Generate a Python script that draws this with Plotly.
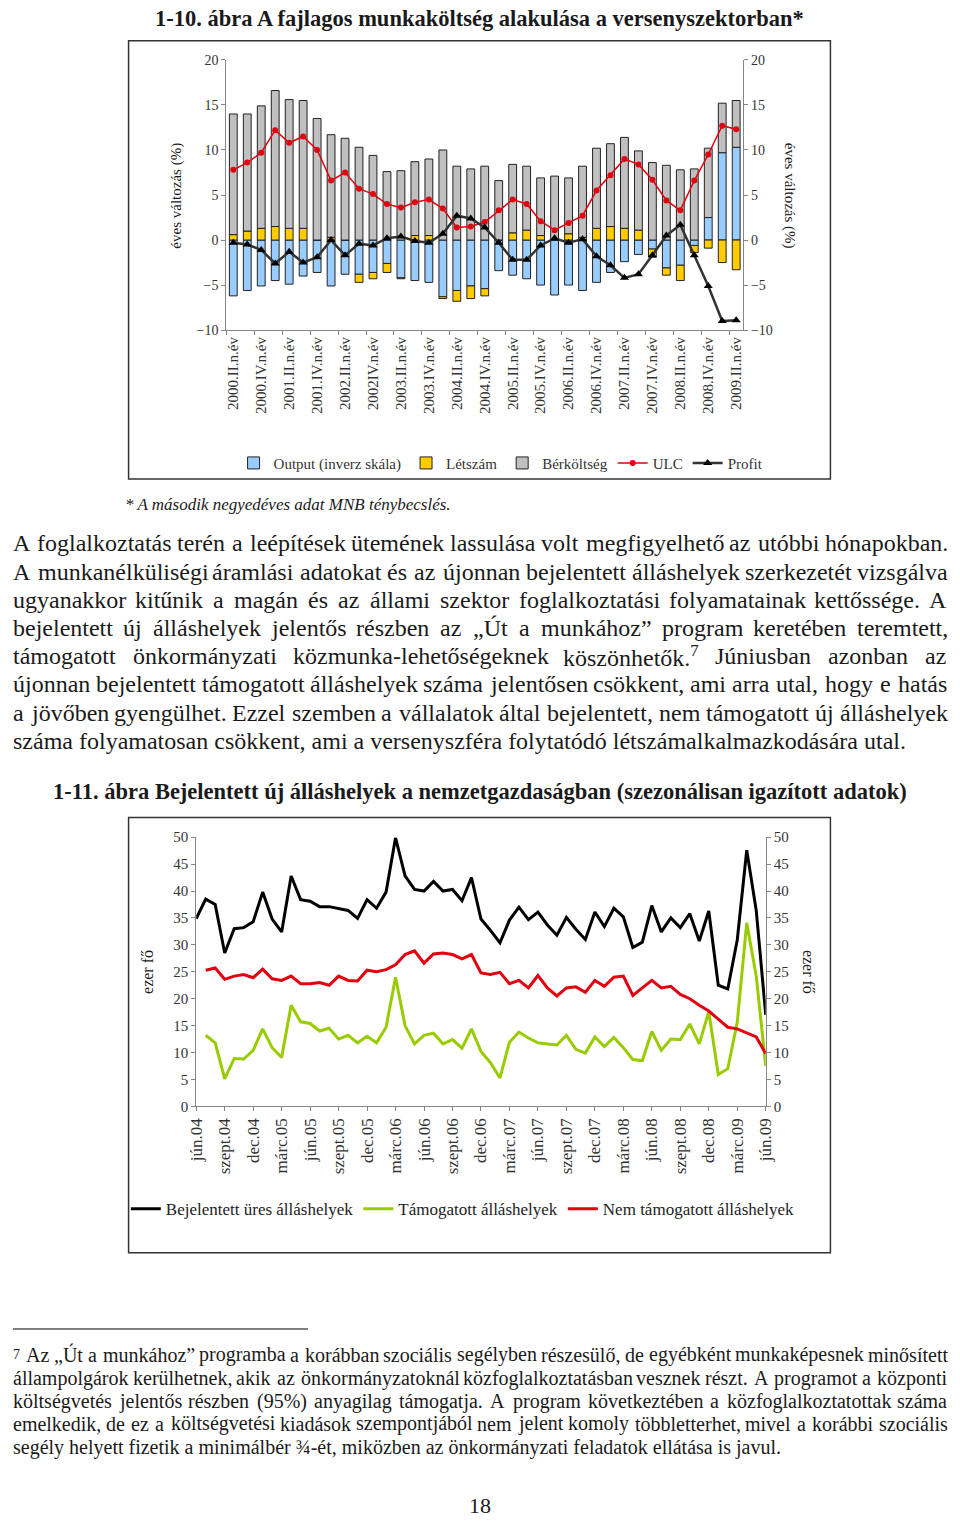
import unicodedata
import plotly.graph_objects as go

W, H = 960, 1525
SERIF = "Liberation Serif"
GRAY = "#868686"
INK = "#1a1a1a"

# ---------- 1-10. ábra: éves változás (%) ----------
quarter_ticks = ["2000.II.n.év", "2000.IV.n.év", "2001.II.n.év", "2001.IV.n.év",
                 "2002.II.n.év", "2002IV.n.év", "2003.II.n.év", "2003.IV.n.év",
                 "2004.II.n.év", "2004.IV.n.év", "2005.II.n.év", "2005.IV.n.év",
                 "2006.II.n.év", "2006.IV.n.év", "2007.II.n.év", "2007.IV.n.év",
                 "2008.II.n.év", "2008.IV.n.év", "2009.II.n.év"]
quarters = [f"{y}.{q}.n.év" for y in range(2000, 2010) for q in ("I", "II", "III", "IV")][1:38]

output = [-6.2, -5.6, -5.1, -4.5, -4.9, -4.0, -3.6, -5.1, -3.8, -3.8, -3.6, -2.6, -4.2,
          -4.5, -4.7, -6.3, -5.6, -5.1, -5.4, -3.4, -3.9, -4.3, -5.0, -6.1, -5.0, -5.6,
          -4.7, -3.6, -2.4, -1.6, -1.0, -3.1, -2.8, -0.6, 2.5, 9.7, 10.3]
letszam = [0.6, 1.0, 1.3, 1.5, 1.3, 1.3, 0.0, 0.3, 0.0, -0.9, -0.7, -1.0, -0.1,
           0.5, 0.5, -0.2, -1.2, -1.4, -0.8, 0.0, 0.8, 1.1, 0.5, 0.0, 0.7, 0.3,
           1.3, 1.5, 1.3, 1.1, -0.9, -0.8, -1.7, -0.8, -0.9, -2.5, -3.3]
berkoltseg = [13.4, 13.0, 13.6, 15.1, 14.3, 14.2, 13.5, 11.4, 11.3, 10.3, 9.4, 7.6, 7.7,
              8.2, 8.5, 10.0, 8.2, 7.9, 8.2, 6.6, 7.6, 7.1, 6.4, 7.1, 6.2, 7.9,
              8.9, 9.2, 10.1, 8.8, 8.6, 8.3, 7.8, 7.9, 7.7, 5.5, 5.2]
ulc = [7.8, 8.6, 9.7, 12.2, 10.8, 11.5, 10.0, 6.6, 7.5, 5.7, 5.1, 4.0, 3.6,
       4.2, 4.5, 3.5, 1.4, 1.5, 2.0, 3.3, 4.5, 4.0, 2.1, 1.1, 1.9, 2.7,
       5.5, 7.2, 9.0, 8.4, 6.7, 4.4, 3.3, 6.6, 9.5, 12.7, 12.3]
profit = [-0.3, -0.5, -1.1, -2.6, -1.3, -2.5, -1.9, 0.0, -1.7, -0.4, -0.6, 0.2, 0.4,
          -0.1, -0.3, 0.7, 2.7, 2.4, 1.4, -0.3, -2.2, -2.2, -0.6, 0.2, -0.3, 0.1,
          -1.8, -2.8, -4.2, -3.8, -1.7, 0.5, 1.7, -1.7, -5.1, -9.0, -8.9]

# ---------- 1-11. ábra: ezer fő, havi adatok jún.04 - jún.09 ----------
month_ticks = ["jún.04", "szept.04", "dec.04", "márc.05", "jún.05", "szept.05", "dec.05",
               "márc.06", "jún.06", "szept.06", "dec.06", "márc.07", "jún.07", "szept.07",
               "dec.07", "márc.08", "jún.08", "szept.08", "dec.08", "márc.09", "jún.09"]
bejelentett = [34.9, 38.5, 37.5, 28.5, 33.0, 33.2, 34.3, 39.8, 34.8, 32.4, 42.8, 38.4, 38.1,
               37.1, 37.1, 36.7, 36.4, 34.9, 38.4, 36.8, 39.8, 49.9, 42.8, 40.3, 40.0, 41.8,
               40.0, 40.3, 38.2, 42.5, 34.8, 32.7, 30.4, 34.6, 37.0, 34.7, 36.1, 33.7, 31.8,
               35.1, 32.9, 31.0, 36.1, 33.4, 36.8, 35.2, 29.5, 30.5, 37.3, 32.4, 35.0, 33.2,
               35.8, 30.7, 36.3, 22.5, 21.8, 30.9, 47.6, 36.4, 17.0]
tamogatott = [None, 13.2, 11.8, 5.1, 8.9, 8.8, 10.4, 14.4, 10.9, 9.1, 18.8, 15.7, 15.4,
              14.0, 14.5, 12.5, 13.2, 11.8, 13.0, 11.8, 14.7, 24.0, 15.0, 11.6, 13.2, 13.6,
              11.6, 12.4, 10.8, 14.4, 10.2, 8.1, 5.3, 11.9, 13.8, 12.7, 11.8, 11.6, 11.4,
              13.2, 10.6, 9.9, 12.9, 11.1, 12.8, 10.9, 8.7, 8.5, 13.9, 10.4, 12.5, 12.4,
              15.3, 11.6, 17.6, 5.9, 7.0, 15.6, 34.1, 24.2, 7.5]
nem_tamogatott = [None, 25.3, 25.7, 23.6, 24.2, 24.5, 23.9, 25.5, 23.7, 23.4, 24.2, 22.8, 22.8,
                  23.0, 22.5, 24.2, 23.4, 23.3, 25.3, 25.0, 25.4, 26.3, 28.2, 28.9, 26.6, 28.3,
                  28.5, 28.2, 27.4, 28.2, 24.8, 24.5, 24.9, 22.8, 23.4, 22.0, 24.3, 22.0, 20.5,
                  22.0, 22.2, 21.2, 23.4, 22.3, 24.0, 24.2, 20.6, 22.0, 23.4, 22.0, 22.3, 20.8,
                  20.0, 18.8, 17.7, 16.2, 14.7, 14.4, 13.6, 12.9, 9.8]

# ---------- szöveg ----------
title1 = "1-10. ábra A fajlagos munkaköltség alakulása a versenyszektorban*"
note1 = "* A második negyedéves adat MNB ténybecslés."
title2 = "1-11. ábra Bejelentett új álláshelyek a nemzetgazdaságban (szezonálisan igazított adatok)"
paragraph = [
    "A foglalkoztatás terén a leépítések ütemének lassulása volt megfigyelhető az utóbbi hónapokban.",
    "A munkanélküliségi áramlási adatokat és az újonnan bejelentett álláshelyek szerkezetét vizsgálva",
    "ugyanakkor kitűnik a magán és az állami szektor foglalkoztatási folyamatainak kettőssége. A",
    "bejelentett új álláshelyek jelentős részben az „Út a munkához” program keretében teremtett,",
    "támogatott önkormányzati közmunka-lehetőségeknek köszönhetők.<sup>7</sup> Júniusban azonban az",
    "újonnan bejelentett támogatott álláshelyek száma jelentősen csökkent, ami arra utal, hogy e hatás",
    "a jövőben gyengülhet. Ezzel szemben a vállalatok által bejelentett, nem támogatott új álláshelyek",
    "száma folyamatosan csökkent, ami a versenyszféra folytatódó létszámalkalmazkodására utal.",
]
footnote = [
    "<sup>7</sup> Az „Út a munkához” programba a korábban szociális segélyben részesülő, de egyébként munkaképesnek minősített",
    "állampolgárok kerülhetnek, akik az önkormányzatoknál közfoglalkoztatásban vesznek részt. A programot a központi",
    "költségvetés jelentős részben (95%) anyagilag támogatja. A program következtében a közfoglalkoztatottak száma",
    "emelkedik, de ez a költségvetési kiadások szempontjából nem jelent komoly többletterhet, mivel a korábbi szociális",
    "segély helyett fizetik a minimálbér ¾-ét, miközben az önkormányzati feladatok ellátása is javul.",
]


def fx(x):
    return x / W


def fy(y):
    return 1 - y / H


# Times / Liberation Serif advance widths (1/1000 em), used to justify lines
ADV = dict(zip("abcdefghijklmnopqrstuvwxyz",
               [444, 500, 444, 500, 444, 333, 500, 500, 278, 278, 500, 278, 778,
                500, 500, 500, 500, 333, 389, 278, 500, 500, 722, 500, 500, 444]))
ADV.update(zip("ABCDEFGHIJKLMNOPQRSTUVWXYZ",
               [722, 667, 667, 722, 611, 556, 722, 722, 333, 389, 722, 611, 889,
                722, 722, 556, 722, 667, 556, 611, 722, 722, 944, 722, 722, 611]))
ADV.update({c: 500 for c in "0123456789"})
ADV.update({".": 250, ",": 250, "-": 333, "(": 333, ")": 333, "%": 833,
            "„": 444, "”": 444, "¾": 750, ":": 278, "*": 500})


def word_width(word, size):
    units = 0
    while "<sup>" in word:
        a = word.index("<sup>")
        b = word.index("</sup>")
        units += 0.7 * sum(ADV.get(c, 500) for c in word[a + 5:b])
        word = word[:a] + word[b + 6:]
    for c in word:
        base = unicodedata.normalize("NFD", c)[0]
        units += ADV.get(base, 500)
    return units * size / 1000


def text_at(text, x, y, size, angle=0, xanchor="center"):
    fig.add_annotation(text=text, x=fx(x), y=fy(y), xref="paper", yref="paper",
                       xanchor=xanchor, yanchor="middle", textangle=angle, showarrow=False,
                       borderpad=0, borderwidth=0,
                       font=dict(family=SERIF, size=size, color=INK))


def add_line(line, y, size, x0=4, x1=956, justify=True):
    if not justify:
        text_at(line, x0, y, size, xanchor="left")
        return
    words = line.split(" ")
    widths = [word_width(w, size) for w in words]
    gap = (x1 - x0 - sum(widths)) / (len(words) - 1)
    x = x0
    for w, wd in zip(words, widths):
        text_at(w, x, y, size, xanchor="left")
        x += wd + gap


fig = go.Figure()

# ---- chart 1: stacked bars + lines ----
qx = list(range(len(quarters)))
for name, vals, color in [("Output (inverz skála)", output, "#99CCFF"),
                          ("Létszám", letszam, "#FFCC00"),
                          ("Bérköltség", berkoltseg, "#C0C0C0")]:
    fig.add_trace(go.Bar(x=qx, y=vals, name=name, hovertext=quarters,
                         marker=dict(color=color, line=dict(color="#222222", width=1)),
                         xaxis="x", yaxis="y", legend="legend"))
fig.add_trace(go.Scatter(x=qx, y=ulc, name="ULC", mode="lines+markers",
                         line=dict(color="#E3000F", width=1.5),
                         marker=dict(symbol="circle", size=6, color="#E3000F"),
                         xaxis="x", yaxis="y", legend="legend"))
fig.add_trace(go.Scatter(x=qx, y=profit, name="Profit", mode="lines+markers",
                         line=dict(color="#333333", width=2.5),
                         marker=dict(symbol="triangle-up", size=8, color="#000000"),
                         xaxis="x", yaxis="y", legend="legend"))
fig.add_trace(go.Scatter(x=[0], y=[0], xaxis="x", yaxis="y2", mode="markers",
                         marker=dict(opacity=0), showlegend=False, hoverinfo="skip"))

# ---- chart 2: monthly lines ----
mx = list(range(len(bejelentett)))
for name, vals, color in [("Bejelentett üres álláshelyek", bejelentett, "#000000"),
                          ("Támogatott álláshelyek", tamogatott, "#99CC00"),
                          ("Nem támogatott álláshelyek", nem_tamogatott, "#E3000F")]:
    fig.add_trace(go.Scatter(x=mx, y=vals, name=name, mode="lines",
                             line=dict(color=color, width=3),
                             xaxis="x2", yaxis="y3", legend="legend2"))
fig.add_trace(go.Scatter(x=[0], y=[0], xaxis="x2", yaxis="y4", mode="markers",
                         marker=dict(opacity=0), showlegend=False, hoverinfo="skip"))

yax = dict(range=[-10, 20], dtick=5, ticks="outside", ticklen=4, tickcolor=GRAY,
           showline=True, linecolor=GRAY, showgrid=False, zeroline=False,
           tickfont=dict(family=SERIF, size=14, color="#333333"))
yax2 = dict(range=[0, 50], dtick=5, ticks="outside", ticklen=4, tickcolor=GRAY,
            showline=True, linecolor=GRAY, showgrid=False, zeroline=False,
            tickfont=dict(family=SERIF, size=15, color="#333333"))

fig.update_layout(
    width=W, height=H, margin=dict(l=0, r=0, t=0, b=0),
    paper_bgcolor="white", plot_bgcolor="rgba(0,0,0,0)",
    barmode="relative", bargap=0.44,
    xaxis=dict(domain=[fx(221.7), fx(749)], anchor="y", range=[-0.5, 36.5],
               tickmode="array", tickvals=qx[::2], ticktext=quarter_ticks, tickangle=-90,
               ticks="", showline=True, linecolor=GRAY, showgrid=False, zeroline=False,
               tickfont=dict(family=SERIF, size=15, color="#333333"),
               minor=dict(tickmode="linear", tick0=-0.5, dtick=2, ticks="outside",
                          ticklen=4, tickcolor=GRAY)),
    yaxis=dict(domain=[fy(325.5), fy(52.5)], anchor="x", **yax),
    yaxis2=dict(overlaying="y", anchor="x", side="right", **yax),
    xaxis2=dict(domain=[fx(191), fx(772)], anchor="y3", range=[0, 60],
                tickmode="array", tickvals=mx[::3], ticktext=month_ticks, tickangle=-90,
                ticks="outside", ticklen=4, tickcolor=GRAY, showline=True, linecolor=GRAY,
                showgrid=False, zeroline=False,
                tickfont=dict(family=SERIF, size=17, color="#333333")),
    yaxis3=dict(domain=[fy(1110), fy(838)], anchor="x2", **yax2),
    yaxis4=dict(overlaying="y3", anchor="x2", side="right", **yax2),
    legend=dict(orientation="h", x=fx(502), xanchor="center", y=fy(460), yanchor="middle",
                itemwidth=30, font=dict(family=SERIF, size=15, color="#333333"),
                bgcolor="rgba(0,0,0,0)"),
    legend2=dict(orientation="h", x=fx(463), xanchor="center", y=fy(1214), yanchor="middle",
                 itemwidth=30, font=dict(family=SERIF, size=17, color="#222222"),
                 bgcolor="rgba(0,0,0,0)"),
    shapes=[
        dict(type="rect", xref="paper", yref="paper", x0=fx(122), x1=fx(838), y0=fy(476),
             y1=fy(33), line=dict(color="#333333", width=1.5)),
        dict(type="rect", xref="paper", yref="paper", x0=fx(122), x1=fx(838), y0=fy(1258),
             y1=fy(818), line=dict(color="#333333", width=1.5)),
        dict(type="line", xref="paper", yref="paper", x0=fx(4), x1=fx(305), y0=fy(1335),
             y1=fy(1335), line=dict(color="#000000", width=1)),
    ],
)

text_at(f"<b>{title1}</b>", 480, 11, 22.5)
text_at("éves változás (%)", 170, 190, 15, angle=-90)
text_at("éves változás (%)", 797, 190, 15, angle=90)
text_at(f"<i>{note1}</i>", 118, 502, 17, xanchor="left")
text_at(f"<b>{title2}</b>", 480, 792, 22.5)
text_at("ezer fő", 142, 974, 16, angle=-90)
text_at("ezer fő", 815, 974, 16, angle=90)
text_at("18", 480, 1513, 22)

para_y = [541, 569.5, 598, 626.5, 655, 683.5, 712, 740.5]
for i, (line, y) in enumerate(zip(paragraph, para_y)):
    add_line(line, y, 24, justify=i < len(paragraph) - 1)

foot_y = [1361, 1385, 1408, 1431, 1455]
for i, (line, y) in enumerate(zip(footnote, foot_y)):
    add_line(line, y, 20, justify=i < len(footnote) - 1)

# drop the default page margin so the 960x1525 figure fills the window exactly
fig.write_html("out.html", config={"displayModeBar": False},
               post_script="document.body.style.margin='0';"
                           "document.body.style.overflow='hidden';")
